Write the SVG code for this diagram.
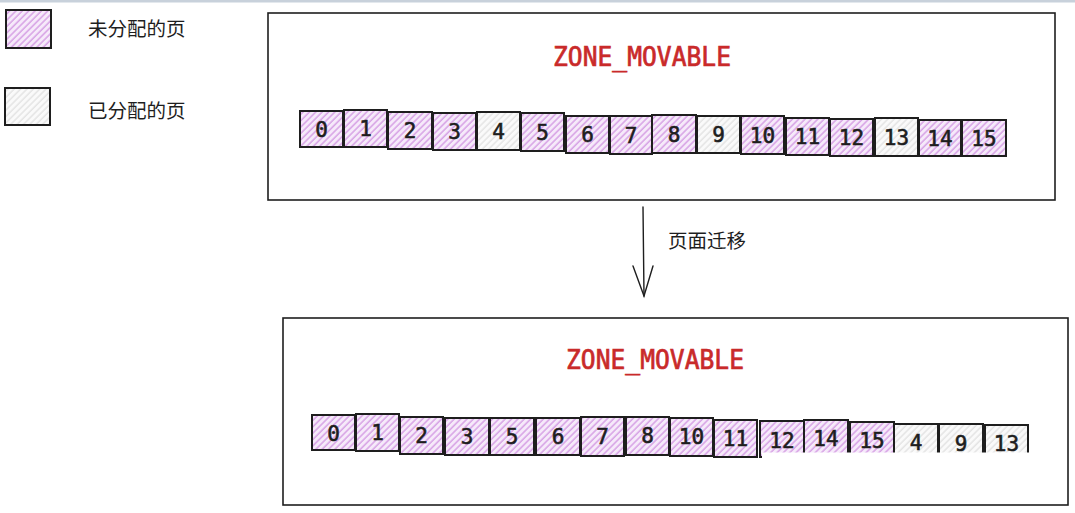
<svg xmlns="http://www.w3.org/2000/svg" width="1075" height="513" viewBox="0 0 1075 513">
<style>
.box{fill:#fff;stroke:#1e1e1e;stroke-width:1.6}
.free{fill:url(#hp);stroke:#1e1e1e;stroke-width:2}
.used{fill:url(#hg);stroke:#1e1e1e;stroke-width:2}
.num{font-family:"DejaVu Sans Mono","Liberation Mono",monospace;font-size:21px;fill:#1e1e1e;stroke:#1e1e1e;stroke-width:0.6;text-anchor:middle}
.zone{font-family:"DejaVu Sans Mono","Liberation Mono",monospace;font-size:26px;fill:#c92a2a;stroke:#c92a2a;stroke-width:0.7;text-anchor:middle}
.lbl{font-family:"Liberation Sans","Noto Sans CJK SC",sans-serif;font-size:19.5px;fill:#1e1e1e}
.conn{fill:none;stroke:#1e1e1e;stroke-width:1.4;stroke-linecap:round}
</style>
<defs>
<pattern id="hp" width="4.5" height="4.5" patternUnits="userSpaceOnUse" patternTransform="rotate(45)">
<rect width="4.5" height="4.5" fill="#f6eafa"/>
<line x1="1" y1="0" x2="1" y2="4.5" stroke="#cf8fe0" stroke-width="1.2"/>
</pattern>
<pattern id="hg" width="4.5" height="4.5" patternUnits="userSpaceOnUse" patternTransform="rotate(45)">
<rect width="4.5" height="4.5" fill="#fafafa"/>
<line x1="1" y1="0" x2="1" y2="4.5" stroke="#dadada" stroke-width="1"/>
</pattern>
</defs>
<rect x="0" y="0" width="1075" height="2.5" fill="#c8d1db"/>

<g id="legend-free">
<rect class="free" x="6" y="10" width="45" height="38"/>
<text class="lbl" x="88" y="36">未分配的页</text>
</g>
<g id="legend-used">
<rect class="used" x="5" y="88" width="45" height="37"/>
<text class="lbl" x="88" y="118">已分配的页</text>
</g>

<g id="zone-before">
<rect class="box" x="268" y="13" width="787" height="187"/>
<text class="zone" x="642" y="66" textLength="178" lengthAdjust="spacingAndGlyphs">ZONE_MOVABLE</text>
<g id="top-cells">
<rect class="free" x="300" y="111" width="43" height="36"/><text class="num" x="321.5" y="137">0</text>
<rect class="free" x="344" y="110" width="43" height="37"/><text class="num" x="365.5" y="136">1</text>
<rect class="free" x="388" y="112" width="44" height="37"/><text class="num" x="410" y="138">2</text>
<rect class="free" x="433" y="113" width="43" height="37"/><text class="num" x="454.5" y="139">3</text>
<rect class="used" x="477" y="112" width="43" height="38"/><text class="num" x="498.5" y="139">4</text>
<rect class="free" x="521" y="113" width="43" height="38"/><text class="num" x="542.5" y="140">5</text>
<rect class="free" x="566" y="116" width="43" height="37"/><text class="num" x="587.5" y="142">6</text>
<rect class="free" x="610" y="116" width="42" height="38"/><text class="num" x="631" y="143">7</text>
<rect class="free" x="652" y="115" width="44" height="38"/><text class="num" x="674" y="142">8</text>
<rect class="used" x="697" y="116" width="43" height="37"/><text class="num" x="718.5" y="142">9</text>
<rect class="free" x="741" y="116" width="43" height="38"/><text class="num" x="762.5" y="143">10</text>
<rect class="free" x="786" y="118" width="43" height="37"/><text class="num" x="807.5" y="144">11</text>
<rect class="free" x="830" y="119" width="43" height="37"/><text class="num" x="851.5" y="145">12</text>
<rect class="used" x="875" y="118" width="43" height="38"/><text class="num" x="896.5" y="145">13</text>
<rect class="free" x="919" y="120" width="42" height="36"/><text class="num" x="940" y="146">14</text>
<rect class="free" x="962" y="120" width="44" height="36"/><text class="num" x="984" y="146">15</text>
</g>
</g>

<g id="connectors">
<path class="conn" d="M643 207 L644 296"/>
<path class="conn" d="M633 266 L644 296 L653 266"/>
</g>
<g id="migrate-label">
<text class="lbl" x="668" y="248">页面迁移</text>
</g>

<g id="zone-after">
<rect class="box" x="283" y="318" width="785" height="187"/>
<text class="zone" x="655" y="369" textLength="178" lengthAdjust="spacingAndGlyphs">ZONE_MOVABLE</text>
<g id="bottom-cells">
<rect class="free" x="312" y="415" width="43" height="35"/><text class="num" x="333.5" y="441">0</text>
<rect class="free" x="356" y="414" width="43" height="37"/><text class="num" x="377.5" y="440">1</text>
<rect class="free" x="400" y="417" width="43" height="37"/><text class="num" x="421.5" y="443">2</text>
<rect class="free" x="445" y="418" width="44" height="37"/><text class="num" x="467" y="444">3</text>
<rect class="free" x="490" y="418" width="44" height="37"/><text class="num" x="512" y="444">5</text>
<rect class="free" x="536" y="418" width="44" height="37"/><text class="num" x="558" y="444">6</text>
<rect class="free" x="581" y="417" width="43" height="39"/><text class="num" x="602.5" y="444">7</text>
<rect class="free" x="626" y="417" width="43" height="38"/><text class="num" x="647.5" y="443">8</text>
<rect class="free" x="670" y="418" width="43" height="38"/><text class="num" x="691.5" y="444">10</text>
<rect class="free" x="714" y="420" width="43" height="37"/><text class="num" x="735.5" y="446">11</text>
<rect class="free" x="760" y="421" width="44" height="36"/><text class="num" x="782" y="448">12</text>
<rect class="free" x="804" y="420" width="44" height="36"/><text class="num" x="826" y="446">14</text>
<rect class="free" x="850" y="422" width="44" height="36"/><text class="num" x="872" y="448">15</text>
<rect class="used" x="894" y="424" width="44" height="36"/><text class="num" x="916" y="450">4</text>
<rect class="used" x="939" y="424" width="44" height="36"/><text class="num" x="961" y="451">9</text>
<rect class="used" x="985" y="425" width="43" height="36"/><text class="num" x="1006.5" y="451">13</text>
</g>
<rect x="762" y="452.5" width="272" height="10" fill="#fff"/>
</g>
</svg>
